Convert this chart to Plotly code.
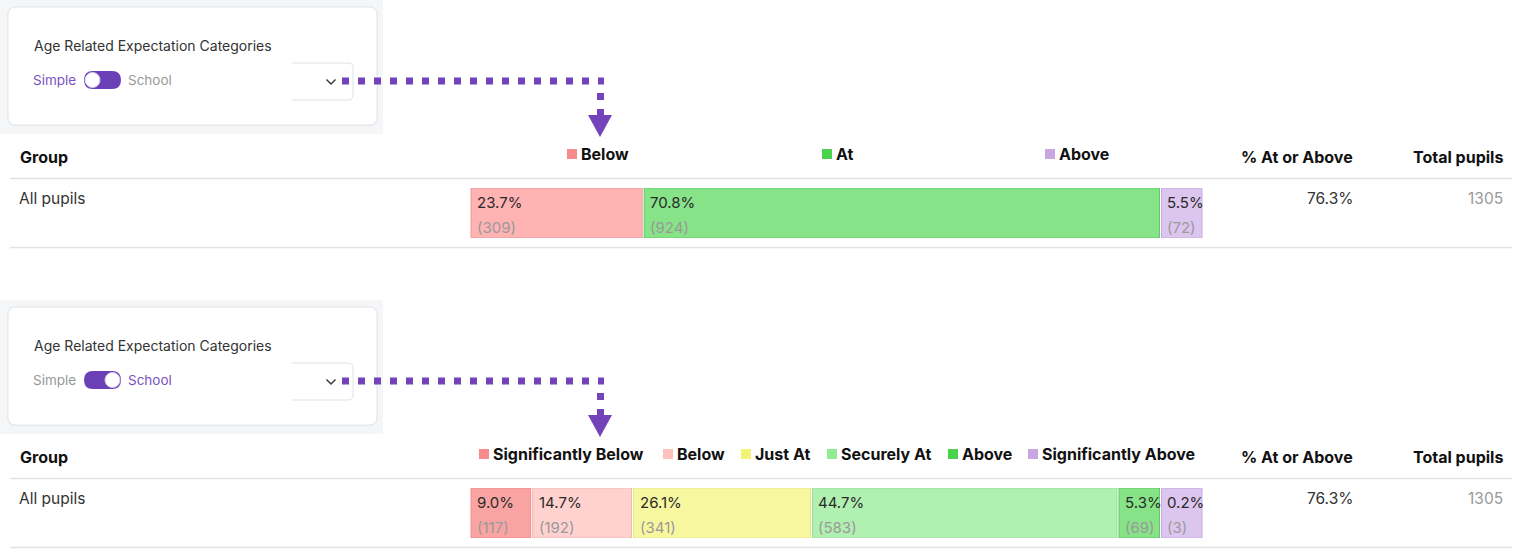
import plotly.graph_objects as go

# ---------------- data ----------------
group_label = "All pupils"
pct_at_or_above = 76.3
total_pupils = 1305

simple_categories = ["Below", "At", "Above"]
simple_pct = [23.7, 70.8, 5.5]
simple_counts = [309, 924, 72]

school_categories = ["Significantly Below", "Below", "Just At", "Securely At", "Above", "Significantly Above"]
school_pct = [9.0, 14.7, 26.1, 44.7, 5.3, 0.2]
school_counts = [117, 192, 341, 583, 69, 3]

header_labels = ["Group", "% At or Above", "Total pupils"]
card_title = "Age Related Expectation Categories"
toggle_labels = ["Simple", "School"]

# ---------------- styles ----------------
simple_fill = ["#ffb3b3", "#86e388", "#dcc5ee"]
simple_border = ["#f09a9a", "#5fcc62", "#c9a8e2"]
simple_swatch = ["#f78b8b", "#4cd24c", "#c9a6e0"]
school_fill = ["#f9a3a3", "#ffd2d0", "#f7f79f", "#b0f0b0", "#86e388", "#dcc5ee"]
school_border = ["#ee8c8c", "#f5b5b3", "#e6e68a", "#98e098", "#5fcc62", "#c9a8e2"]
school_swatch = ["#f78b8b", "#ffc1bd", "#f3f37a", "#92ec92", "#4cd24c", "#c9a6e0"]

W, H = 1535, 555
FONT = "Inter, Roboto, sans-serif"
PURPLE = "#7442b9"
BAR_X0, BAR_X1 = 470, 1203
MIN_SHARE = 5.8
GAP = 2 / (BAR_X1 - BAR_X0) * 100
BOLD_SIZE = 16

simple_legend_x = [567, 822, 1045]
school_legend_x = [479, 663, 741, 827, 948, 1028]

sections = [
    dict(off=0, cats=simple_categories, pct=simple_pct, cnt=simple_counts,
         fill=simple_fill, border=simple_border, swatch=simple_swatch,
         legx=simple_legend_x, school=False),
    dict(off=300, cats=school_categories, pct=school_pct, cnt=school_counts,
         fill=school_fill, border=school_border, swatch=school_swatch,
         legx=school_legend_x, school=True),
]


def display_shares(pcts):
    small = [p < MIN_SHARE for p in pcts]
    fixed = MIN_SHARE * sum(small)
    big_sum = sum(p for p, s in zip(pcts, small) if not s)
    return [MIN_SHARE if s else p / big_sum * (100 - fixed) for p, s in zip(pcts, small)]


def rr(x0, y0, x1, y1, r):
    return (f"M {x0+r} {y0} L {x1-r} {y0} Q {x1} {y0} {x1} {y0+r} L {x1} {y1-r} "
            f"Q {x1} {y1} {x1-r} {y1} L {x0+r} {y1} Q {x0} {y1} {x0} {y1-r} "
            f"L {x0} {y0+r} Q {x0} {y0} {x0+r} {y0} Z")


fig = go.Figure()
shapes = []
annots = []


def txt(x, y, s, size=15, color="#222", anchor="left", bold=False, xref="x", yref="y", yshift=0, xshift=0):
    annots.append(dict(x=x, y=y, xref=xref, yref=yref, text=(f"<b>{s}</b>" if bold else s),
                       showarrow=False, xanchor=anchor, yanchor="middle", xshift=xshift, yshift=yshift,
                       font=dict(family=FONT, size=size, color=color)))


for i, sec in enumerate(sections):
    o = sec["off"]
    # card area background
    shapes.append(dict(type="rect", x0=0, x1=383, y0=o, y1=o + 134, xref="x", yref="y",
                       fillcolor="#f5f6f8", line=dict(width=0), layer="below"))
    shapes.append(dict(type="path", path=rr(7, o + 6.5, 378, o + 126.5, 9), xref="x", yref="y",
                       fillcolor="#eceef2", line=dict(width=0), layer="below"))
    shapes.append(dict(type="path", path=rr(8, o + 7, 377, o + 125, 8), xref="x", yref="y",
                       fillcolor="#ffffff", line=dict(color="#e4e6ea", width=1), layer="below"))
    txt(32, o + 45, card_title, size=14, color="#333")
    on_school = sec["school"]
    txt(31, o + 80, toggle_labels[0], size=13.5, color="#999" if on_school else "#7b52c1")
    txt(126, o + 80, toggle_labels[1], size=13.5, color="#7b52c1" if on_school else "#999")
    # toggle
    shapes.append(dict(type="path", path=rr(84, o + 71, 121, o + 89, 9), xref="x", yref="y",
                       fillcolor="#6b3fb6", line=dict(width=0)))
    kx = 112.5 if on_school else 92.5
    shapes.append(dict(type="circle", x0=kx - 7.5, x1=kx + 7.5, y0=o + 72.5, y1=o + 87.5,
                       xref="x", yref="y", fillcolor="#ffffff", line=dict(color="#d8cdea", width=1)))
    # dropdown
    shapes.append(dict(type="path", xref="x", yref="y",
                       path=f"M 292 {o+63} L 348 {o+63} Q 353 {o+63} 353 {o+68} L 353 {o+95} "
                            f"Q 353 {o+100} 348 {o+100} L 292 {o+100}",
                       line=dict(color="#dde3ea", width=1)))
    shapes.append(dict(type="path", xref="x", yref="y",
                       path=f"M 326.5 {o+79.5} L 331 {o+84} L 335.5 {o+79.5}",
                       line=dict(color="#333", width=1.4)))
    # dotted connector + arrow
    shapes.append(dict(type="line", xref="x", yref="y", x0=342, x1=604, y0=o + 81, y1=o + 81,
                       line=dict(color=PURPLE, width=7, dash="7px,9px")))
    shapes.append(dict(type="line", xref="x", yref="y", x0=600.5, x1=600.5, y0=o + 93, y1=o + 100,
                       line=dict(color=PURPLE, width=7)))
    shapes.append(dict(type="rect", xref="x", yref="y", x0=597, x1=604, y0=o + 109, y1=o + 116,
                       fillcolor=PURPLE, line=dict(width=0)))
    shapes.append(dict(type="path", xref="x", yref="y",
                       path=f"M 588 {o+115} L 612 {o+115} L 600 {o+137} Z",
                       fillcolor=PURPLE, line=dict(width=0)))
    # headers
    txt(18, o + 157, header_labels[0], size=BOLD_SIZE, bold=True, color="#111")
    txt(1354, o + 157, header_labels[1], size=BOLD_SIZE, bold=True, color="#111", anchor="right", xshift=1)
    txt(1504, o + 157, header_labels[2], size=BOLD_SIZE, bold=True, color="#111", anchor="right", xshift=1)
    # legend
    for cat, sw, lx in zip(sec["cats"], sec["swatch"], sec["legx"]):
        shapes.append(dict(type="rect", xref="x", yref="y", x0=lx, x1=lx + 10, y0=o + 149, y1=o + 159,
                           fillcolor=sw, line=dict(width=0)))
        txt(lx + 12, o + 154, cat, size=BOLD_SIZE, bold=True, color="#111")
    # separators
    for yy in (o + 178.5, o + 247.5):
        shapes.append(dict(type="line", xref="x", yref="y", x0=10, x1=1512, y0=yy, y1=yy,
                           line=dict(color="#e2e2e2", width=1.5)))
    # row
    txt(17, o + 198, group_label, size=15.5, color="#333")
    txt(1354, o + 198, f"{pct_at_or_above:.1f}%", size=15.5, color="#333", anchor="right", xshift=1)
    txt(1504, o + 198, str(total_pupils), size=15.5, color="#999", anchor="right", xshift=1)

    # bars
    xa = "x2" if i == 0 else "x3"
    ya = "y2" if i == 0 else "y3"
    shares = display_shares(sec["pct"])
    start = 0.0
    for cat, p, c, w, f, b in zip(sec["cats"], sec["pct"], sec["cnt"], shares, sec["fill"], sec["border"]):
        fig.add_trace(go.Bar(x=[w - GAP], base=[start + GAP / 2], y=[0], orientation="h", width=1,
                             xaxis=xa, yaxis=ya, name=cat, showlegend=False, hoverinfo="skip",
                             marker=dict(color=f, line=dict(color=b, width=1))))
        txt(start + GAP / 2, 0.5, f"{p:.1f}%", color="#2a2a2a", xref=xa, yref=ya, yshift=-14, xshift=4)
        txt(start + GAP / 2, 0.5, f"({c})", color="#9a9a9a", xref=xa, yref=ya, yshift=-39, xshift=4)
        start += w


def ydom(top_px, bot_px):
    return [1 - bot_px / H, 1 - top_px / H]


xdom = [BAR_X0 / W, BAR_X1 / W]
fig.update_layout(
    width=W, height=H, margin=dict(l=0, r=0, t=0, b=0),
    paper_bgcolor="#ffffff", plot_bgcolor="rgba(0,0,0,0)",
    barmode="overlay", showlegend=False,
    xaxis=dict(range=[0, W], visible=False, domain=[0, 1], fixedrange=True),
    yaxis=dict(range=[H, 0], visible=False, domain=[0, 1], fixedrange=True),
    xaxis2=dict(range=[0, 100], visible=False, domain=xdom, anchor="y2"),
    yaxis2=dict(range=[-0.5, 0.5], visible=False, domain=ydom(188, 238), anchor="x2"),
    xaxis3=dict(range=[0, 100], visible=False, domain=xdom, anchor="y3"),
    yaxis3=dict(range=[-0.5, 0.5], visible=False, domain=ydom(488, 538), anchor="x3"),
    shapes=shapes, annotations=annots,
)

fig.write_html("out.html", config={"displayModeBar": False},
               post_script="document.body.style.margin='0';document.body.style.overflow='hidden';")
